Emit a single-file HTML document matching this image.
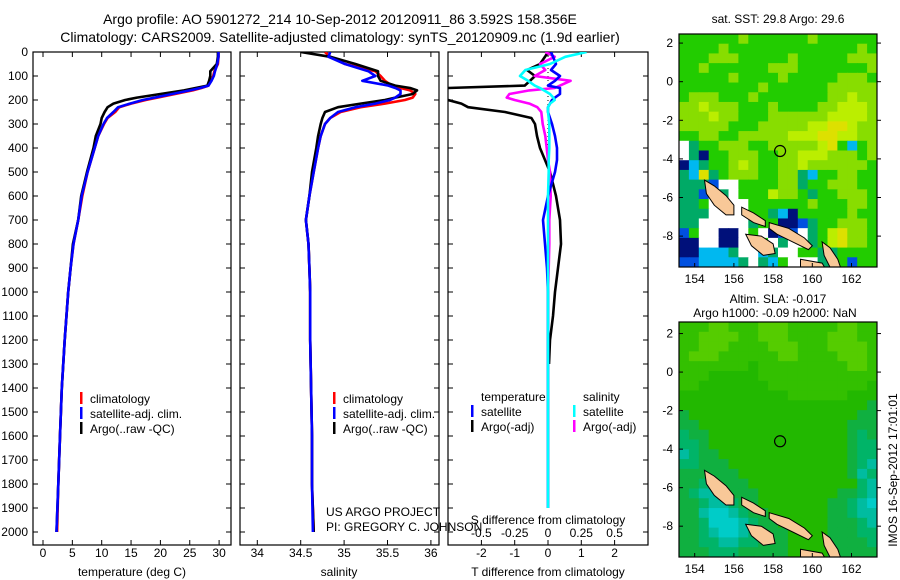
<!DOCTYPE html>
<html><head><meta charset="utf-8">
<style>
html,body{margin:0;padding:0;background:#fff;}
svg{display:block;font-family:"Liberation Sans",sans-serif;}
text{fill:#000;}
</style></head>
<body>
<svg id="fig" width="900" height="580" viewBox="0 0 900 580" xmlns="http://www.w3.org/2000/svg">
<defs>
<clipPath id="c1"><rect x="33" y="52" width="198" height="493"/></clipPath>
<clipPath id="c2"><rect x="240" y="52" width="199" height="493"/></clipPath>
<clipPath id="c3"><rect x="448" y="52" width="200" height="493"/></clipPath>
<clipPath id="cm1"><rect x="679" y="34" width="198" height="233"/></clipPath>
<clipPath id="cm2"><rect x="679" y="322" width="198" height="235"/></clipPath>
</defs>
<text x="340" y="24" font-size="14" text-anchor="middle">Argo profile: AO 5901272_214 10-Sep-2012 20120911_86 3.592S 158.356E</text>
<text x="340" y="42" font-size="14" text-anchor="middle">Climatology: CARS2009. Satellite-adjusted climatology: synTS_20120909.nc (1.9d earlier)</text>
<g id="g"></g>
</svg>
<script>
// ---------- data ----------
const depths=[0,20,50,80,100,120,140,150,160,175,190,200,215,230,250,275,300,350,400,500,600,700,800,900,1000,1200,1400,1600,1800,2000];
const tempArgo=[29.8,29.8,29.6,28.5,28.5,28.3,28.0,26,24,20,16,14,12,11,10.5,10,9.8,9.0,8.6,7.5,6.5,6.0,5.1,4.7,4.3,3.7,3.2,2.9,2.6,2.3];
const tempClim=[29.9,29.9,29.8,29.2,29.0,28.6,28.2,27,25.5,22.5,19.5,17.5,15,13,12.3,11,10.4,9.4,8.8,7.6,6.7,6.0,5.2,4.7,4.3,3.7,3.2,2.9,2.6,2.4];
const tempSat=[29.9,29.9,29.7,29.3,29.1,28.7,28.2,26.8,25,22,19,17,14.8,12.8,12.0,10.9,10.3,9.4,8.8,7.6,6.6,6.0,5.2,4.7,4.3,3.7,3.2,2.9,2.6,2.3];
const salArgo=[34.50,34.84,35.13,35.39,35.39,35.42,35.59,35.76,35.84,35.79,35.59,35.47,35.19,34.93,34.78,34.75,34.73,34.70,34.68,34.63,34.60,34.56,34.59,34.60,34.61,34.61,34.62,34.63,34.63,34.65];
const salClim=[34.78,34.84,35.01,35.36,35.42,35.47,35.55,35.65,35.76,35.82,35.79,35.70,35.47,35.19,34.96,34.84,34.78,34.73,34.70,34.65,34.60,34.56,34.59,34.60,34.61,34.61,34.62,34.63,34.63,34.65];
const salSat=[34.84,34.82,35.01,35.28,35.36,35.21,35.51,35.59,35.65,35.65,35.59,35.53,35.36,35.13,34.93,34.84,34.78,34.73,34.70,34.65,34.60,34.56,34.59,34.60,34.61,34.61,34.62,34.63,34.63,34.64];
const diffDepths=[0,20,50,75,100,120,140,150,160,175,190,200,215,230,250,275,300,350,400,450,500,600,700,800,900,1000,1100,1200,1300,1500,1700,1900];
const dTArgo=[0,-0.09,-0.24,-0.63,-0.39,-0.54,-0.7,-3.0,-3.3,-3.3,-3.3,-3.0,-2.6,-2.4,-1.29,-0.5,-0.39,-0.33,-0.24,-0.09,0.06,0.24,0.36,0.39,0.3,0.21,0.15,0.06,0.03];
const dTSat=[0.09,0.15,0.24,0.09,0.36,0.21,0,0.36,0.36,0.36,0.21,0.12,0.06,0,0,0.06,0.12,0.21,0.27,0.27,0.21,0,-0.15,-0.09,-0.03,0,0,0,0,0,0,0];
const dSSat=[0.29,0.13,0.015,-0.17,-0.21,-0.15,-0.1,-0.06,-0.03,0.015,0.04,0.05,0.015,0,0,0.005,0.01,0.01,0.01,0.005,0.005,0,0,0,0,0,0,0,0,0,0,0];
const dSArgo=[-0.02,0.05,-0.06,-0.02,-0.1,0.17,0.09,0.05,-0.14,-0.29,-0.31,-0.25,-0.14,-0.08,-0.05,-0.045,-0.04,-0.02,-0.01,0,0.015,0.02,0.01,0.01,0.005,0,0,0,0,0,0,0];
const depthTicks=[0,100,200,300,400,500,600,700,800,900,1000,1100,1200,1300,1400,1500,1600,1700,1800,1900,2000];
const tempTicks=[0,5,10,15,20,25,30];
const salTicks=[34,34.5,35,35.5,36];
const dTTicks=[-2,-1,0,1,2];
const dSTicks=["-0.5","-0.25","0","0.25","0.5"];
const latTicks=[2,0,-2,-4,-6,-8];
const lonTicks=[154,156,158,160,162];
const sstGrid=[
"gggggglgggggglgggggg","gggglggggggggggggglg","ggglllggggglggggglll","gglgggggglllgggggggl",
"ggggglgggglggggglllg","gggggggglgggggglllll","glllggglgggggggllyll","llylllggglggggllyyyl",
"lllyllgggllllllyyyyl","lllllggglllllyyYYyll","ggllgglllllyyyYYyyll","wtgglllgglllllyYgcgl",
"wtngglllggllyyylllgl","nctgglylggllyllllllg","tcYtglllgglltcggllgg","tttbwwgggglltgglllgg",
"ttbwtwgggyllgtgglllg","ttgwwwwgggggglgggllg","tttwwwwggtcnggggglgg","ttwwwwwtggnnbtgglllg",
"bgwwnnwgwnbbwtgyYllg","nnwwnnwwgwtwwtgyYllg","nnccctwwctwwggttgggg","bbcccctwtcgwwwttgbgg"];
const slaGrid=[
"GGGLLGGGLLLGGGGGLLGG","GGLLLLGGLLLGGGGLLLGG","GGLLLGGGGLLLGGGLLLLG","GLLLGGGGGGLLGGGGLLLG",
"GGGGGGGgGGGGGGGGGLLG","GGGgggggGGGGGGGGGGGG","GGgggggggGGGGGGGGGGg","gggggggggggGGGGGGggg",
"ggggggggggggggggggge","egggggggggggggggggee","eegggggggggggggggeee","teeggggggggggggggete",
"tteggggggggggggggett","uteegggggggggggggett","tteeeggggggggggggetu","eeeeeegggggggggggeut",
"eeteeeegggggggggggtu","etuuteeeggggggggeetu","eetuuteegggggggeetuc","eeuccuteeggggggeetuu",
"eetcccuteegggggeeetu","eetuccuteeeggggeeett","eettuutteeeggggeeeet","eeettteeeeeggggeeeee"];
const islands=[
[[154.5,-5.1],[155.0,-5.4],[155.6,-5.9],[156.0,-6.4],[156.0,-6.9],[155.6,-6.9],[155.0,-6.4],[154.6,-5.8]],
[[156.4,-6.5],[157.0,-6.8],[157.6,-7.2],[157.6,-7.5],[157.0,-7.3],[156.4,-6.9]],
[[157.8,-7.3],[158.8,-7.6],[159.6,-8.1],[160.0,-8.5],[159.8,-8.7],[159.0,-8.3],[158.2,-7.9],[157.8,-7.6]],
[[156.6,-7.9],[157.4,-8.0],[158.0,-8.4],[158.1,-8.9],[157.5,-9.0],[156.9,-8.5]],
[[160.5,-8.3],[160.9,-8.6],[161.3,-9.2],[161.5,-9.8],[161.0,-9.8],[160.6,-9.0]],
[[159.4,-9.2],[160.5,-9.4],[160.8,-9.9],[159.4,-9.9]]];
const floatPos=[158.356,-3.592];

// ---------- helpers ----------
const NS="http://www.w3.org/2000/svg";
const G=document.getElementById('g');
function mk(tag,attrs,parent){const e=document.createElementNS(NS,tag);for(const k in attrs)e.setAttribute(k,attrs[k]);(parent||G).appendChild(e);return e;}
const y0=52,yPer=0.24;
const yD=d=>y0+d*yPer;
const xT=t=>43+t*5.87;
const xS=s=>257.3+(s-34)*86.8;
const xDT=d=>548+d*33.3;
const xDS=d=>548+d*133.2;

function frame(x,w,name){
  const r=mk('rect',{x:x,y:52,width:w,height:493,fill:'none',stroke:'#000','stroke-width':1.2});
  
  
  depthTicks.forEach(d=>{
    mk('line',{x1:x,x2:x+5,y1:yD(d),y2:yD(d),stroke:'#000'});
    mk('line',{x1:x+w-5,x2:x+w,y1:yD(d),y2:yD(d),stroke:'#000'});
  });
}
function xticks(vals,fx,labels,ylab,name){
  vals.forEach((v,i)=>{
    const x=fx(v);
    mk('line',{x1:x,x2:x,y1:545,y2:540,stroke:'#000'});
    mk('line',{x1:x,x2:x,y1:52,y2:57,stroke:'#000'});
    const t=mk('text',{x:x,y:ylab,'font-size':12,'text-anchor':'middle'});
    t.textContent=labels?labels[i]:v;
    
    
  });
}
function line(xs,ds,fx,color,clip,name,w){
  let p='';
  xs.forEach((v,i)=>{p+=(i?'L':'M')+fx(v).toFixed(1)+','+yD(ds[i]).toFixed(1);});
  const e=mk('path',{d:p,fill:'none',stroke:color,'stroke-width':w||2.6,'stroke-linejoin':'round','clip-path':'url(#'+clip+')'});
  
  
}
function txt(x,y,s,name,extra){
  const t=mk('text',Object.assign({x:x,y:y,'font-size':12},extra||{}));
  t.textContent=s;
  
  
  return t;
}
function legBar(x,y,color){mk('rect',{x:x,y:y-11,width:2.5,height:12,fill:color});}

depthTicks.forEach(d=>{txt(28,yD(d)+4,String(d),'depth-tick-label',{'text-anchor':'end'});});

frame(33,198,'temperature-panel');
xticks(tempTicks,xT,null,557,'temperature-tick-label');
txt(132,576,'temperature (deg C)','temperature-axis-title',{'text-anchor':'middle'});
line(tempClim,depths,xT,'#ff0000','c1','temp-climatology-line');
line(tempArgo,depths,xT,'#000000','c1','temp-argo-line');
line(tempSat,depths,xT,'#0000ff','c1','temp-satellite-line');
legBar(80,403,'#f00');txt(90,403,'climatology','legend-climatology');
legBar(80,418,'#00f');txt(90,418,'satellite-adj. clim.','legend-satellite-adj');
legBar(80,433,'#000');txt(90,433,'Argo(..raw -QC)','legend-argo');

frame(240,199,'salinity-panel');
xticks(salTicks,xS,null,557,'salinity-tick-label');
txt(339,576,'salinity','salinity-axis-title',{'text-anchor':'middle'});
line(salClim,depths,xS,'#ff0000','c2','sal-climatology-line');
line(salArgo,depths,xS,'#000000','c2','sal-argo-line');
line(salSat,depths,xS,'#0000ff','c2','sal-satellite-line');
legBar(333,403,'#f00');txt(343,403,'climatology','legend-climatology-2');
legBar(333,418,'#00f');txt(343,418,'satellite-adj. clim.','legend-satellite-adj-2');
legBar(333,433,'#000');txt(343,433,'Argo(..raw -QC)','legend-argo-2');
txt(326,516,'US ARGO PROJECT','project-credit');
txt(326,531,'PI: GREGORY C. JOHNSON','pi-credit');

frame(448,200,'difference-panel');
xticks(dTTicks,xDT,null,557,'t-diff-tick-label');
dTTicks.forEach((v,i)=>{txt(xDT(v),537,dSTicks[i],'s-diff-tick-label',{'text-anchor':'middle'});});
txt(548,524,'S difference from climatology','s-diff-axis-title',{'text-anchor':'middle'});
txt(548,576,'T difference from climatology','t-diff-axis-title',{'text-anchor':'middle'});
mk('line',{x1:548,x2:548,y1:52,y2:500,stroke:'#000','stroke-width':1,'stroke-dasharray':'1,3'});
line(dTArgo,diffDepths.slice(0,dTArgo.length),xDT,'#000000','c3','t-diff-argo-line');
line(dSArgo,diffDepths,xDS,'#ff00ff','c3','s-diff-argo-line');
line(dTSat,diffDepths,xDT,'#0000ff','c3','t-diff-satellite-line');
line(dSSat,diffDepths,xDS,'#00ffff','c3','s-diff-satellite-line');
txt(481,401,'temperature','legend-temperature-header');
txt(583,401,'salinity','legend-salinity-header');
legBar(471,416,'#00f');txt(481,416,'satellite','legend-t-satellite');
legBar(471,431,'#000');txt(481,431,'Argo(-adj)','legend-t-argo');
legBar(573,416,'#0ff');txt(583,416,'satellite','legend-s-satellite');
legBar(573,431,'#f0f');txt(583,431,'Argo(-adj)','legend-s-argo');

const sstCol={g:'#22cc00',l:'#88dd00',y:'#bbee00',Y:'#dde000',t:'#00aa66',c:'#00b8f0',b:'#0050e0',n:'#00107a',w:'#ffffff'};
const slaCol={L:'#55cc00',G:'#33c000',g:'#22b800',e:'#10b040',t:'#00b468',u:'#00bca0',c:'#00ccc8'};
function map(top,bottom,grid,cols,clip,name,latTop,latBot){
  const lonL=153.2,lonR=163.3;
  const fx=lon=>679+(lon-lonL)/(lonR-lonL)*198;
  const fy=lat=>top+(latTop-lat)/(latTop-latBot)*(bottom-top);
  const g=mk('g',{'clip-path':'url(#'+clip+')'});
  
  
  const nr=grid.length,nc=grid[0].length,cw=198/nc,ch=(bottom-top)/nr;
  grid.forEach((row,r)=>{for(let c=0;c<nc;c++){
    mk('rect',{x:(679+c*cw).toFixed(2),y:(top+r*ch).toFixed(2),width:(cw+0.6).toFixed(2),height:(ch+0.6).toFixed(2),fill:cols[row[c]]},g);
  }});
  islands.forEach(poly=>{
    const pts=poly.map(p=>fx(p[0]).toFixed(1)+','+fy(p[1]).toFixed(1)).join(' ');
    const e=mk('polygon',{points:pts,fill:'#f8c898',stroke:'#000','stroke-width':1},g);
    
    
  });
  const ci=mk('circle',{cx:fx(floatPos[0]),cy:fy(floatPos[1]),r:5.5,fill:'none',stroke:'#000','stroke-width':1.2});
  
  
  mk('rect',{x:679,y:top,width:198,height:bottom-top,fill:'none',stroke:'#000','stroke-width':1.2});
  latTicks.forEach(l=>{
    const y=fy(l);
    mk('line',{x1:679,x2:683,y1:y,y2:y,stroke:'#000'});
    mk('line',{x1:877,x2:881,y1:y,y2:y,stroke:'#000'});
    txt(673,y+4,String(l),'latitude-tick-label',{'text-anchor':'end'});
  });
  lonTicks.forEach(l=>{
    const x=fx(l);
    mk('line',{x1:x,x2:x,y1:bottom,y2:bottom-4,stroke:'#000'});
    txt(x,bottom+16,String(l),'longitude-tick-label',{'text-anchor':'middle'});
  });
}
map(34,267,sstGrid,sstCol,'cm1','sst-map',2.47,-9.6);
map(322,557,slaGrid,slaCol,'cm2','sla-map',2.6,-9.6);
txt(778,23,'sat. SST: 29.8 Argo: 29.6','sst-map-title',{'text-anchor':'middle'});
txt(778,303,'Altim. SLA: -0.017','sla-map-title',{'text-anchor':'middle'});
txt(775,317,'Argo h1000: -0.09 h2000: NaN','argo-height-title',{'text-anchor':'middle'});
txt(0,0,'IMOS 16-Sep-2012 17:01:01','imos-timestamp',{'text-anchor':'middle',transform:'translate(897,470) rotate(-90)'});
</script>
</body></html>
